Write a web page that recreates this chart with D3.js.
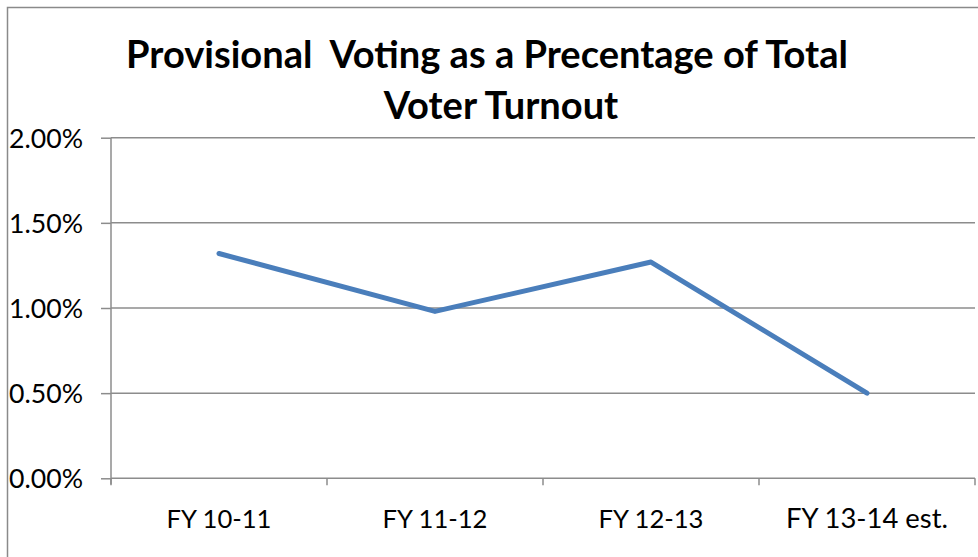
<!DOCTYPE html>
<html><head><meta charset="utf-8">
<script src="https://cdn.jsdelivr.net/npm/d3@7"></script>
<style>
html,body{margin:0;padding:0;background:#fff;}
svg{display:block;font-family:Lato,"Open Sans",sans-serif;}
</style></head>
<body>
<svg id="chart" width="978" height="557"></svg>
<script>
const categories = ["FY 10-11", "FY 11-12", "FY 12-13", "FY 13-14 est."];
const values = [1.32, 0.98, 1.27, 0.50];
const yTicks = [0, 0.5, 1.0, 1.5, 2.0];
const titleLines = ["Provisional  Voting as a Precentage of Total", "Voter Turnout"];

const svg = d3.select("#chart");
const W = 978, H = 557;
const m = {left: 111, right: 975, top: 137.7, bottom: 478.3};

// outer border
svg.append("rect").attr("x", 7.5).attr("y", 7.5).attr("width", W + 10).attr("height", H + 10)
  .attr("fill", "none").attr("stroke", "#8a8a8a").attr("stroke-width", 1.5);

const x = d3.scaleBand().domain(categories).range([m.left, m.right]).padding(0);
const y = d3.scaleLinear().domain([0, 2]).range([m.bottom, m.top]);

function fit(sel, target) {
  const node = sel.node();
  const fs = parseFloat(sel.attr("font-size"));
  const w = node.getComputedTextLength();
  sel.attr("font-size", fs * target / w);
}

// gridlines
svg.append("g").selectAll("line").data(yTicks.filter(d => d > 0)).join("line")
  .attr("x1", m.left).attr("x2", m.right)
  .attr("y1", d => y(d)).attr("y2", d => y(d))
  .attr("stroke", "#8c8c8c").attr("stroke-width", 1.5);

// y axis
const yAxis = d3.axisLeft(y).tickValues(yTicks).tickSize(10).tickFormat(d => d.toFixed(2) + "%");
const gy = svg.append("g").attr("transform", `translate(${m.left},0)`).call(yAxis);
gy.select(".domain").attr("stroke", "#8c8c8c").attr("stroke-width", 1.5)
  .attr("d", `M0,${m.top}V${m.bottom + 6}`);
gy.selectAll(".tick line").attr("stroke", "#8c8c8c").attr("stroke-width", 1.5);
gy.selectAll(".tick text").attr("x", -28).attr("fill", "#000")
  .attr("font-family", "Lato, 'Open Sans', sans-serif").attr("font-size", 22).attr("dy", "0.36em");
gy.selectAll(".tick text").each(function(){ fit(d3.select(this), 74); });

// x axis
const xAxis = d3.axisBottom(x).tickSize(0).tickPadding(0);
const gx = svg.append("g").attr("transform", `translate(0,${m.bottom})`).call(xAxis);
gx.select(".domain").attr("stroke", "#8c8c8c").attr("stroke-width", 1.5)
  .attr("d", `M${m.left},0H${m.right}`);
gx.selectAll(".tick line").remove();
gx.selectAll(".tick text").attr("fill", "#000").attr("y", 50).attr("dy", 0)
  .attr("font-family", "Lato, 'Open Sans', sans-serif").attr("font-size", 20);
const xw = {"FY 10-11": 105, "FY 11-12": 105, "FY 12-13": 105, "FY 13-14 est.": 162};
gx.selectAll(".tick text").each(function(d){ fit(d3.select(this), xw[d]); });
// category boundary ticks
const bounds = categories.map(c => x(c)).concat([m.right]);
gx.append("g").selectAll("line").data(bounds).join("line")
  .attr("x1", d => d).attr("x2", d => d).attr("y1", 0).attr("y2", 7)
  .attr("stroke", "#8c8c8c").attr("stroke-width", 1.5);

// line
const line = d3.line().x((d, i) => x(categories[i]) + x.bandwidth() / 2).y(d => y(d));
svg.append("path").datum(values).attr("d", line).attr("fill", "none")
  .attr("stroke", "#4a7ebb").attr("stroke-width", 5).attr("stroke-linejoin", "round").attr("stroke-linecap", "round");

// title
const t1 = svg.append("text").attr("x", 487).attr("y", 68).attr("text-anchor", "middle")
  .attr("font-weight", "bold").attr("font-size", 32).style("white-space", "pre").attr("fill", "#000")
  .text(titleLines[0]);
fit(t1, 722);
const fsT = parseFloat(t1.attr("font-size"));
svg.append("text").attr("x", 501).attr("y", 119).attr("text-anchor", "middle")
  .attr("font-weight", "bold").attr("font-size", fsT).attr("fill", "#000")
  .text(titleLines[1]);
</script>
</body></html>
